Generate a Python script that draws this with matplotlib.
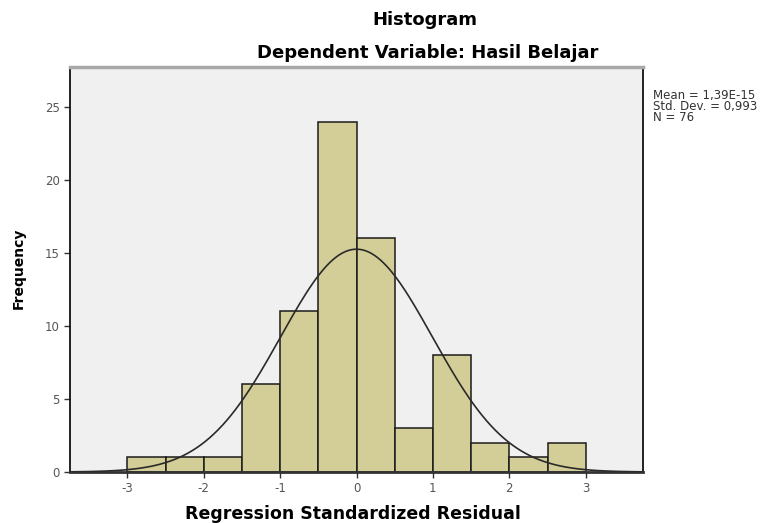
import numpy as np
import matplotlib
matplotlib.use("Agg")
import matplotlib.pyplot as plt

bin_edges = [-3.0, -2.5, -2.0, -1.5, -1.0, -0.5, 0.0, 0.5, 1.0, 1.5, 2.0, 2.5, 3.0]
counts = [1, 1, 1, 6, 11, 24, 16, 3, 8, 2, 1, 2]
mean_val = 1.39e-15
std_val = 0.993
n_val = 76
x_ticks = [-3, -2, -1, 0, 1, 2, 3]
y_ticks = [0, 5, 10, 15, 20, 25]

W, H = 769, 523
fig = plt.figure(figsize=(W / 100, H / 100), dpi=100)
ax = fig.add_axes([70 / W, 1 - 472 / H, (643 - 70) / W, (472 - 67) / H])
ax.set_facecolor("#f0f0f0")

lefts = np.array(bin_edges[:-1])
widths = np.diff(bin_edges)
ax.bar(lefts, counts, width=widths, align="edge", color="#d3ce98",
       edgecolor="#1a1a1a", linewidth=1.1, zorder=2)

bw = widths[0]
xs = np.linspace(-3.75, 3.75, 400)
ys = n_val * bw * np.exp(-0.5 * ((xs - mean_val) / std_val) ** 2) / (std_val * np.sqrt(2 * np.pi))
ax.plot(xs, ys, color="#2a2a2a", linewidth=1.2, zorder=3)

ax.set_xlim(-3.75, 3.75)
ax.set_ylim(0, 27.75)
ax.set_xticks(x_ticks)
ax.set_xticklabels([str(t) for t in x_ticks])
ax.set_yticks(y_ticks)
ax.set_yticklabels([str(t) for t in y_ticks])
ax.tick_params(axis="both", direction="out", length=4, width=1, colors="#333333",
               labelsize=8.5, labelcolor="#555555")

for side in ["left", "right"]:
    ax.spines[side].set_color("#111111")
    ax.spines[side].set_linewidth(1.3)
ax.spines["bottom"].set_color("#333333")
ax.spines["bottom"].set_linewidth(2)
ax.spines["top"].set_color("#a8a8a8")
ax.spines["top"].set_linewidth(2.5)

fig.text(353 / W, 1 - 514 / H, "Regression Standardized Residual", ha="center", va="center",
         fontsize=12.5, fontweight="bold")
fig.text(19 / W, 1 - 268 / H, "Frequency", ha="center", va="center", rotation=90,
         fontsize=10, fontweight="bold")

fig.text(425 / W, 1 - 20 / H, "Histogram", ha="center", va="center",
         fontsize=13, fontweight="bold")
fig.text(428 / W, 1 - 53 / H, "Dependent Variable: Hasil Belajar", ha="center", va="center",
         fontsize=13, fontweight="bold")

stats = "Mean = 1,39E-15\nStd. Dev. = 0,993\nN = 76"
fig.text(653 / W, 1 - 89 / H, stats, ha="left", va="top", fontsize=8.5,
         color="#333333", linespacing=0.8)

fig.savefig("out.png", dpi=100)
